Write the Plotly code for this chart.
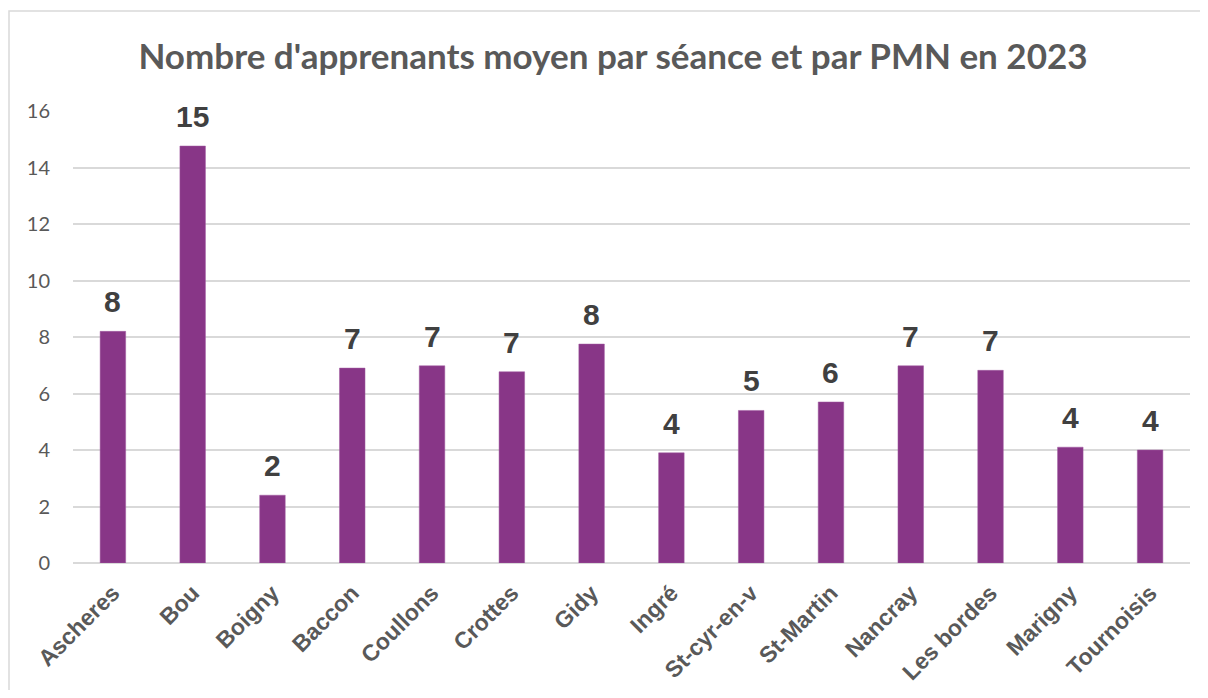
import plotly.graph_objects as go

categories = ["Ascheres", "Bou", "Boigny", "Baccon", "Coullons", "Crottes", "Gidy",
              "Ingré", "St-cyr-en-v", "St-Martin", "Nancray", "Les bordes", "Marigny", "Tournoisis"]
values = [8.2, 14.76, 2.4, 6.9, 6.98, 6.77, 7.75, 3.9, 5.4, 5.7, 6.98, 6.82, 4.1, 4.0]
y_ticks = [0, 2, 4, 6, 8, 10, 12, 14, 16]

OFF = 8  # page offset of the figure in the browser (body margin)
W, H = 1208 - 2 * OFF, 698 - 2 * OFF
L, T = 73 - OFF, 111 - OFF
R = W - (1190 - OFF)
B = H - (563 - OFF)
pw, ph = W - L - R, H - T - B

fig = go.Figure()
fig.add_trace(go.Bar(
    x=categories, y=values,
    marker=dict(color="#883687", line=dict(color="#a05aa0", width=0.5)),
    hoverinfo="x+y",
))

for c, v in zip(categories, values):
    fig.add_annotation(x=c, y=v, text=f"{v:.0f}", showarrow=False,
                       yanchor="bottom", yshift=11,
                       font=dict(family="Liberation Sans", size=30, color="#404040", weight="bold"))

# outer chart border: left and top edges only (others run off the picture)
bx0 = (1 - L) / pw
bx1 = (W + 10 - L) / pw
by0 = -(H + 10 - T - ph) / ph
by1 = 1 + (T - 3) / ph
fig.add_shape(type="path", xref="paper", yref="paper",
              path=f"M {bx0},{by0} L {bx0},{by1} L {bx1},{by1}",
              line=dict(color="#d9d9d9", width=1.5), layer="below")

fig.update_layout(
    width=W, height=H,
    margin=dict(l=L, r=R, t=T, b=B, autoexpand=False),
    paper_bgcolor="white", plot_bgcolor="white",
    bargap=0.68,
    showlegend=False,
    title=dict(text="Nombre d'apprenants moyen par séance et par PMN en 2023",
               x=(613 - OFF) / W, xanchor="center", y=1 - (57 - OFF) / H, yanchor="middle",
               font=dict(family="Lato", size=35, color="#595959", weight="bold")),
    xaxis=dict(tickangle=-45, showgrid=False, showline=False, ticks="",
               ticklabelstandoff=11,
               tickfont=dict(family="Liberation Sans", size=23, color="#595959", weight="bold")),
    yaxis=dict(range=[0, 16], tickvals=y_ticks, showgrid=True, gridcolor="#d9d9d9", gridwidth=1.5,
               zeroline=True, zerolinecolor="#d9d9d9", zerolinewidth=1.5,
               ticklabelstandoff=22,
               tickfont=dict(family="Lato", size=20, color="#595959")),
)

fig.write_html("out.html")
